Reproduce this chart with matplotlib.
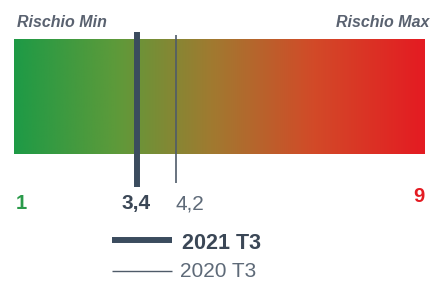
import numpy as np
import matplotlib
matplotlib.use("Agg")
import matplotlib.pyplot as plt
from matplotlib.colors import LinearSegmentedColormap

# ---- data ----
scale_min = 1
scale_max = 9
values = [3.4, 4.2]
value_labels = ["3,4", "4,2"]
series = ["2021 T3", "2020 T3"]
end_labels = ["Rischio Min", "Rischio Max"]

plt.rcParams['font.family'] = ['Liberation Sans', 'DejaVu Sans']

W, H = 436, 283
fig = plt.figure(figsize=(W / 100, H / 100), dpi=100)
ax = fig.add_axes([0, 0, 1, 1])
ppu = 48.75  # pixels per unit
x0 = scale_min - 19.5 / ppu
ax.set_xlim(x0, x0 + W / ppu)
ax.set_ylim(H, 0)
ax.axis('off')

def px(p):
    return x0 + p / ppu

# gradient bar
cmap = LinearSegmentedColormap.from_list(
    "risk", [(0.0, "#1E9A46"), (0.25, "#5E9A3A"), (0.48, "#A07A30"),
             (0.73, "#D24A28"), (1.0, "#E41B22")])
grad = np.linspace(0, 1, 512).reshape(1, -1)
ax.imshow(grad, cmap=cmap, aspect='auto', extent=[px(14), px(425), 154, 39],
          interpolation='bicubic', zorder=1)

# markers
ax.vlines(values[0], 32, 187, color="#3B4C5E", lw=4.3, zorder=3)
ax.vlines(values[1], 35, 183, color="#4F5B69", lw=1.2, zorder=3)

# end labels
ax.text(px(17), 27, end_labels[0], fontsize=11.5, fontweight='bold',
        style='italic', color="#5A6270", ha='left', va='baseline')
ax.text(px(429), 27, end_labels[1], fontsize=11.5, fontweight='bold',
        style='italic', color="#5A6270", ha='right', va='baseline')

ax.text(px(16), 209, str(scale_min), fontsize=14.5, fontweight='bold',
        color="#2A9A4A", ha='left', va='baseline')
ax.text(px(425), 202, str(scale_max), fontsize=14.5, fontweight='bold',
        color="#E41B22", ha='right', va='baseline')

ax.text(values[0], 209, value_labels[0], fontsize=15, fontweight='bold',
        color="#3B4756", ha='center', va='baseline')
ax.text(values[1], 209, value_labels[1], fontsize=15,
        color="#5E6A78", ha='left', va='baseline')

# legend
ax.plot([px(112), px(172)], [240, 240], color="#3B4C5E", lw=4.3,
        solid_capstyle='butt')
ax.text(px(182), 249, series[0], fontsize=15.5, fontweight='bold',
        color="#3B4756", ha='left', va='baseline')
ax.plot([px(112), px(172)], [271, 271], color="#4F5B69", lw=1.0,
        solid_capstyle='butt')
ax.text(px(180), 277, series[1], fontsize=15,
        color="#5E6A78", ha='left', va='baseline')

fig.savefig("out.png", dpi=100)
